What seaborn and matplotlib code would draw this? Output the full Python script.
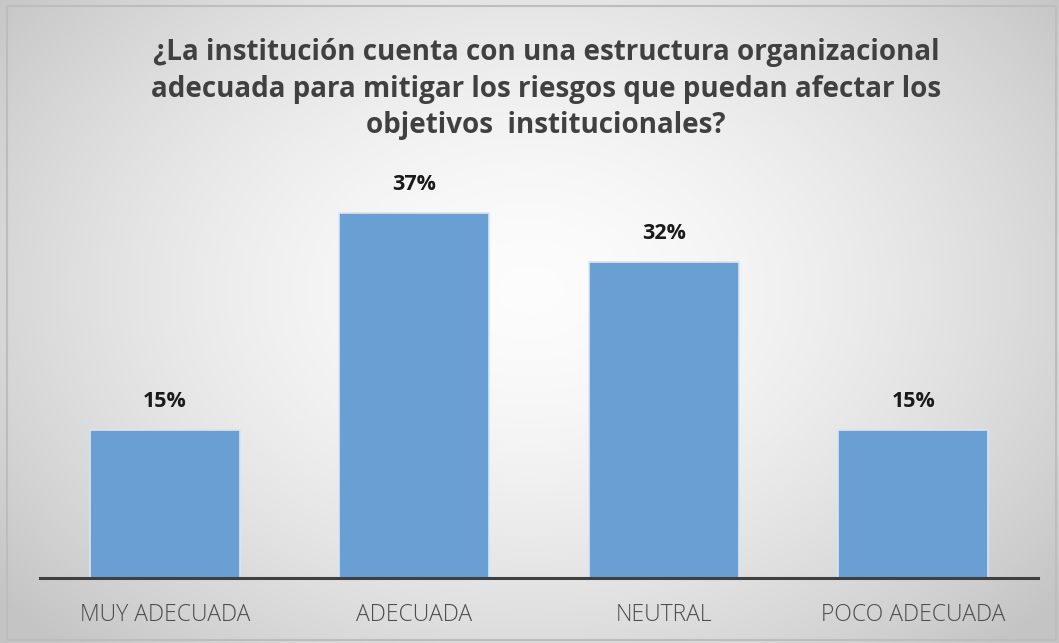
import numpy as np
import pandas as pd
import matplotlib
matplotlib.use("Agg")
import matplotlib.pyplot as plt
import seaborn as sns

categorias = ["MUY ADECUADA", "ADECUADA", "NEUTRAL", "POCO ADECUADA"]
porcentajes = [15, 37, 32, 15]
titulo = ("¿La institución cuenta con una estructura organizacional\n"
          "adecuada para mitigar los riesgos que puedan afectar los\n"
          "objetivos  institucionales?")

sns.set_theme(style="white")
plt.rcParams["font.family"] = ["Open Sans", "DejaVu Sans"]

W, H = 1059, 643
fig = plt.figure(figsize=(W / 100, H / 100), dpi=100)

# radial gradient background
bg = fig.add_axes([0, 0, 1, 1], zorder=-10)
yy, xx = np.mgrid[0:H, 0:W]
r = np.sqrt(((xx - W * 0.5) / (W * 0.62)) ** 2 + ((yy - H * 0.45) / (H * 0.75)) ** 2)
shade = np.clip(0.99 - 0.21 * r ** 1.6, 0.77, 1.0)
img = np.dstack([shade, shade, shade])
bg.imshow(img, extent=[0, W, H, 0], aspect="auto", interpolation="bilinear")
bg.plot([7, W - 3, W - 3, 7, 7], [6, 6, H - 3, H - 3, 6], color="#bdbdbd", lw=1.5)
bg.set_xlim(0, W)
bg.set_ylim(H, 0)
bg.axis("off")

ax = fig.add_axes([40 / W, 1 - 578 / H, 998 / W, 394.4 / H])
ax.patch.set_alpha(0)
df = pd.DataFrame({"categoria": categorias, "porcentaje": porcentajes})
sns.barplot(data=df, x="categoria", y="porcentaje", color="#6a9fd4",
            saturation=1, width=0.6, edgecolor="#d6e6f5", linewidth=1.2, ax=ax)
ax.set_ylim(0, 40)
ax.set_xlim(-0.5, 3.5)
for p, v in zip(ax.patches, porcentajes):
    ax.annotate(f"{v}%", (p.get_x() + p.get_width() / 2, v),
                xytext=(0, 13), textcoords="offset points", ha="center", va="bottom",
                fontsize=15.5, fontweight="bold", color="#1a1a1a")
ax.set_xlabel("")
ax.set_ylabel("")
ax.set_yticks([])
for s in ["top", "left", "right"]:
    ax.spines[s].set_visible(False)
ax.spines["bottom"].set_color("#404040")
ax.spines["bottom"].set_linewidth(2.2)
ax.tick_params(axis="x", length=0, pad=18, labelsize=16.5, labelcolor="#4d4d4d")
for t in ax.get_xticklabels():
    t.set_fontweight("light")

fig.text(546 / W, 1 - 89 / H, titulo, ha="center", va="center", fontsize=20,
         fontweight="bold", color="#404040", linespacing=1.32)

fig.savefig("out.png", dpi=100)
